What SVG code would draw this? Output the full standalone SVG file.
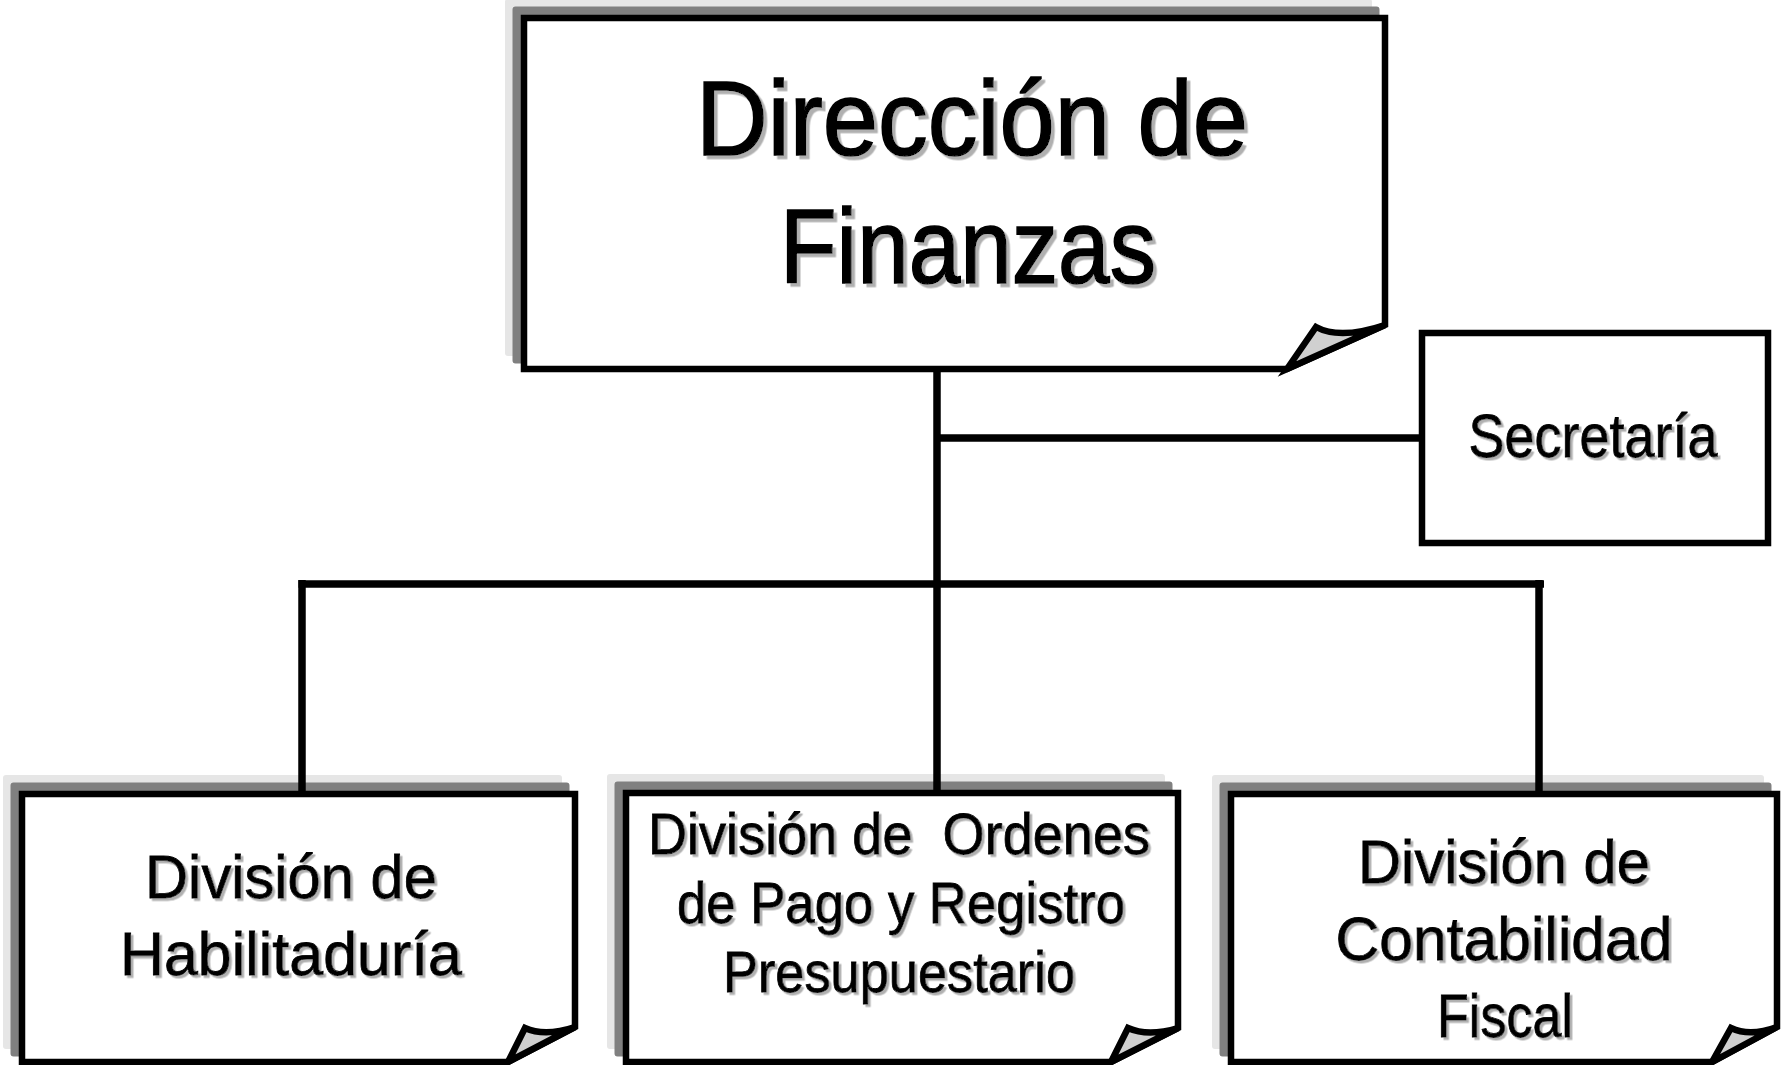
<svg xmlns="http://www.w3.org/2000/svg" xmlns:xlink="http://www.w3.org/1999/xlink" width="1792" height="1065" viewBox="0 0 1792 1065">
<style>
  .page { fill: #ffffff; stroke: #000000; stroke-width: 6.5; stroke-linejoin: miter; }
  .sh1 { fill: #808080; stroke: #808080; stroke-width: 6; stroke-linejoin: round; }
  .sh2 { fill: #e6e6e6; stroke: #e6e6e6; stroke-width: 6; stroke-linejoin: round; }
  .fold { fill: #d0d0d0; stroke: #000000; stroke-width: 6.5; stroke-linejoin: miter; }
  .box { fill: #ffffff; stroke: #000000; stroke-width: 6.5; }
  .conn { stroke: #000000; stroke-width: 7.5; fill: none; stroke-linecap: butt; }
  .t { font-family: "Liberation Sans", Arial, sans-serif; fill: #000000; stroke: #000000; stroke-width: 0.8; text-anchor: middle; filter: url(#ts); }
  .tl { font-family: "Liberation Sans", Arial, sans-serif; fill: #000000; stroke: #000000; stroke-width: 1.6; text-anchor: middle; filter: url(#tsl); }
</style>
<defs>
  <filter id="ts" x="-5%" y="-20%" width="110%" height="140%">
    <feDropShadow dx="2.5" dy="2.5" stdDeviation="0" flood-color="#b0b0b0" flood-opacity="1"/>
  </filter>
  <filter id="tsl" x="-5%" y="-20%" width="110%" height="140%">
    <feDropShadow dx="3.5" dy="3.5" stdDeviation="0" flood-color="#b0b0b0" flood-opacity="1"/>
  </filter>
  <path id="pTop" d="M524,18 H1385 V325 L1287,369 H524 Z"/>
  <path id="pBL" d="M22,794 H575 V1027 L508,1062 H22 Z"/>
  <path id="pBM" d="M626,793 H1178 V1028 L1111,1062 H626 Z"/>
  <path id="pBR" d="M1231,794 H1777 V1027 L1712,1062 H1231 Z"/>
</defs>
<rect width="1792" height="1065" fill="#ffffff"/>

<g id="direccion">
  <use xlink:href="#pTop" href="#pTop" class="sh2" transform="translate(-16,-16)"/>
  <use xlink:href="#pTop" href="#pTop" class="sh1" transform="translate(-8.5,-8.5)"/>
  <use xlink:href="#pTop" href="#pTop" class="page"/>
  <path class="fold" d="M1287,369 L1316,327 Q1340,340 1385,325 Z"/>
  <text class="tl" x="972" y="155" font-size="105" textLength="552" lengthAdjust="spacingAndGlyphs">Dirección de</text>
  <text class="tl" x="968" y="283" font-size="105" textLength="376" lengthAdjust="spacingAndGlyphs">Finanzas</text>
</g>

<g id="secretaria">
  <rect class="box" x="1422" y="333" width="346" height="210"/>
  <text class="t" x="1593" y="457" font-size="62" textLength="249" lengthAdjust="spacingAndGlyphs">Secretaría</text>
</g>

<g id="habilitaduria">
  <use xlink:href="#pBL" href="#pBL" class="sh2" transform="translate(-16,-16)"/>
  <use xlink:href="#pBL" href="#pBL" class="sh1" transform="translate(-8.5,-8.5)"/>
  <use xlink:href="#pBL" href="#pBL" class="page"/>
  <path class="fold" d="M508,1062 L525,1028 Q545,1037 575,1027 Z"/>
  <text class="t" x="291" y="898" font-size="62" textLength="292" lengthAdjust="spacingAndGlyphs">División de</text>
  <text class="t" x="291" y="975" font-size="62" textLength="342" lengthAdjust="spacingAndGlyphs">Habilitaduría</text>
</g>

<g id="ordenes">
  <use xlink:href="#pBM" href="#pBM" class="sh2" transform="translate(-16,-16)"/>
  <use xlink:href="#pBM" href="#pBM" class="sh1" transform="translate(-8.5,-8.5)"/>
  <use xlink:href="#pBM" href="#pBM" class="page"/>
  <path class="fold" d="M1111,1062 L1128,1028 Q1148,1037 1178,1028 Z"/>
  <text class="t" x="899" y="854" font-size="58" textLength="502" lengthAdjust="spacingAndGlyphs" xml:space="preserve">División de  Ordenes</text>
  <text class="t" x="901" y="923" font-size="58" textLength="448" lengthAdjust="spacingAndGlyphs">de Pago y Registro</text>
  <text class="t" x="899" y="992" font-size="58" textLength="352" lengthAdjust="spacingAndGlyphs">Presupuestario</text>
</g>

<g id="contabilidad">
  <use xlink:href="#pBR" href="#pBR" class="sh2" transform="translate(-16,-16)"/>
  <use xlink:href="#pBR" href="#pBR" class="sh1" transform="translate(-8.5,-8.5)"/>
  <use xlink:href="#pBR" href="#pBR" class="page"/>
  <path class="fold" d="M1712,1062 L1731,1028 Q1750,1037 1777,1027 Z"/>
  <text class="t" x="1504" y="883" font-size="61" textLength="292" lengthAdjust="spacingAndGlyphs">División de</text>
  <text class="t" x="1504" y="960" font-size="61" textLength="337" lengthAdjust="spacingAndGlyphs">Contabilidad</text>
  <text class="t" x="1505" y="1037" font-size="61" textLength="136" lengthAdjust="spacingAndGlyphs">Fiscal</text>
</g>

<g id="connectors">
  <line class="conn" x1="937" y1="372" x2="937" y2="792"/>
  <line class="conn" x1="937" y1="438" x2="1420" y2="438"/>
  <line class="conn" x1="298.5" y1="584" x2="1544" y2="584"/>
  <line class="conn" x1="302" y1="580" x2="302" y2="792"/>
  <line class="conn" x1="1539" y1="580" x2="1539" y2="792"/>
</g>
</svg>
